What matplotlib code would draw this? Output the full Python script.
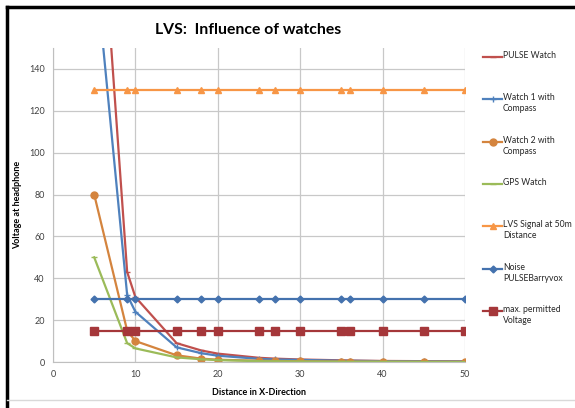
import matplotlib
matplotlib.use('Agg')
from matplotlib import pyplot as plt
from matplotlib.lines import Line2D

plt.rcParams['font.family'] = ['Lato', 'DejaVu Sans']

distance = [5, 9, 10, 15, 18, 20, 25, 27, 30, 35, 36, 40, 45, 50]

pulse_watch = [265, 43, 31, 9, 5.5, 4, 2, 1.6, 1.2, 0.8, 0.7, 0.5, 0.4, 0.3]
watch1 = [195, 32, 24, 7, 4.2, 3, 1.5, 1.2, 1.0, 0.6, 0.6, 0.4, 0.3, 0.2]
watch2 = [80, 15, 10, 3.2, 1.6, 1.1, 0.6, 0.5, 0.35, 0.2, 0.2, 0.15, 0.1, 0.05]
gps_watch = [50, 9, 6.5, 2.2, 1.3, 0.9, 0.4, 0.35, 0.25, 0.15, 0.12, 0.1, 0.05, 0.0]
lvs_signal = [130] * 14
noise = [30] * 14
max_permitted = [15] * 14

labels = ['PULSE Watch', 'Watch 1 with\nCompass', 'Watch 2 with\nCompass', 'GPS Watch',
          'LVS Signal at 50m\nDistance', 'Noise\nPULSEBarryvox', 'max. permitted\nVoltage']

W, H = 575, 408
fig = plt.figure(figsize=(W / 100, H / 100), dpi=100)
ax = fig.add_axes([53 / W, 1 - 362 / H, 412 / W, 314 / H])

lines = []
lines += ax.plot(distance, pulse_watch, color='#C0504D', lw=1.6, marker='_', ms=5)
lines += ax.plot(distance, watch1, color='#4F81BD', lw=1.6, marker='+', ms=5)
lines += ax.plot(distance, watch2, color='#D4843E', lw=1.6, marker='o', ms=5)
lines += ax.plot(distance, gps_watch, color='#9BBB59', lw=1.6, marker='_', ms=5)
lines += ax.plot(distance, lvs_signal, color='#F79646', lw=1.6, marker='^', ms=5)
lines += ax.plot(distance, noise, color='#4472AE', lw=1.6, marker='D', ms=3.5)
lines += ax.plot(distance, max_permitted, color='#A5373A', lw=1.6, marker='s', ms=6)

ax.set_xlim(0, 50)
ax.set_ylim(0, 150)
ax.set_xticks(range(0, 51, 10))
ax.set_yticks(range(0, 141, 20))
ax.grid(True, color='#C8C8C8', lw=0.9)
ax.set_axisbelow(True)
for s in ['top', 'right']:
    ax.spines[s].set_visible(False)
for s in ['left', 'bottom']:
    ax.spines[s].set_color('#BFBFBF')
ax.tick_params(length=0, labelsize=6.5, colors='#404040', pad=6)

ax.set_xlabel('Distance in X-Direction', fontsize=6.5, fontweight='bold', labelpad=6)
ax.set_ylabel('Voltage at headphone', fontsize=6.5, fontweight='bold', labelpad=5)
fig.text(248 / W, 1 - 30 / H, 'LVS:  Influence of watches', fontsize=11.3,
         fontweight='bold', ha='center', va='center')

# legend drawn like the Excel one: marker on the first text line
for i, (ln, lab) in enumerate(zip(lines, labels)):
    y = 1 - (57 + i * 42.3) / H
    fig.add_artist(Line2D([483 / W, 502 / W], [y, y], color=ln.get_color(), lw=1.6))
    fig.add_artist(Line2D([492.5 / W], [y], color=ln.get_color(), marker=ln.get_marker(),
                          ms=ln.get_markersize(), lw=0))
    fig.text(503 / W, y + 6 / H, lab, fontsize=6.2, va='top', ha='left',
             linespacing=1.3, color='#262626')

# chart border
fig.add_artist(Line2D([7 / W, 7 / W], [0, 1 - 7 / H], color='black', lw=2.5))
fig.add_artist(Line2D([7 / W, 1], [1 - 7 / H, 1 - 7 / H], color='black', lw=2.5))
fig.add_artist(Line2D([7 / W, 1], [1 - 400 / H, 1 - 400 / H], color='#D9D9D9', lw=1))

plt.savefig('out.png')
